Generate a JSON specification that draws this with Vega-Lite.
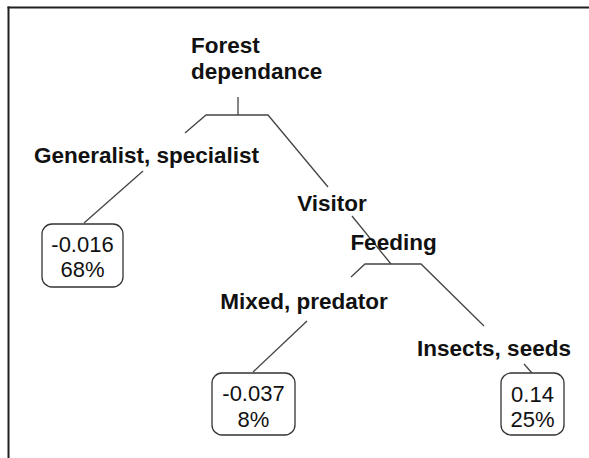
{
  "$schema": "https://vega.github.io/schema/vega-lite/v6.json",
  "width": 581,
  "height": 451,
  "padding": {"left": 8, "top": 7, "right": 0, "bottom": 0},
  "autosize": {"type": "none"},
  "background": "white",
  "config": {
    "view": {"stroke": null},
    "axis": {"domain": true, "domainColor": "#231f20", "domainWidth": 2, "domainCap": "square", "ticks": false, "labels": false, "grid": false, "title": null}
  },
  "datasets": {
    "edges": [
      {"edge": "root", "ord": 1, "x": 238, "y": 97},
      {"edge": "root", "ord": 2, "x": 238, "y": 115},
      {"edge": "split1", "ord": 1, "x": 185, "y": 133},
      {"edge": "split1", "ord": 2, "x": 206, "y": 115},
      {"edge": "split1", "ord": 3, "x": 268, "y": 115},
      {"edge": "split1", "ord": 4, "x": 328, "y": 187},
      {"edge": "leaf1", "ord": 1, "x": 143, "y": 171},
      {"edge": "leaf1", "ord": 2, "x": 84, "y": 223},
      {"edge": "visitor", "ord": 1, "x": 352, "y": 216},
      {"edge": "visitor", "ord": 2, "x": 391, "y": 264},
      {"edge": "split2", "ord": 1, "x": 351, "y": 277},
      {"edge": "split2", "ord": 2, "x": 365, "y": 264},
      {"edge": "split2", "ord": 3, "x": 421, "y": 264},
      {"edge": "split2", "ord": 4, "x": 484, "y": 326},
      {"edge": "leaf2", "ord": 1, "x": 307, "y": 321},
      {"edge": "leaf2", "ord": 2, "x": 253, "y": 372},
      {"edge": "leaf3", "ord": 1, "x": 524, "y": 364},
      {"edge": "leaf3", "ord": 2, "x": 532, "y": 373}
    ],
    "rootLabel": [
      {"label": "Forest\ndependance", "x": 191, "y": 52.5}
    ],
    "splits": [
      {"label": "Generalist, specialist", "x": 146.5, "y": 163},
      {"label": "Visitor", "x": 332, "y": 210.5},
      {"label": "Feeding", "x": 393.5, "y": 250},
      {"label": "Mixed, predator", "x": 304, "y": 309},
      {"label": "Insects, seeds", "x": 494, "y": 355.5}
    ],
    "leaves": [
      {"mean": "-0.016", "share": "68%", "label": "-0.016\n68%", "x0": 42, "x1": 123, "y0": 224, "y1": 287, "cx": 82.5, "ty": 251.5},
      {"mean": "-0.037", "share": "8%", "label": "-0.037\n8%", "x0": 212, "x1": 295, "y0": 373, "y1": 435, "cx": 253.5, "ty": 401},
      {"mean": "0.14", "share": "25%", "label": "0.14\n25%", "x0": 501, "x1": 564, "y0": 373, "y1": 435, "cx": 532.5, "ty": 401.5}
    ]
  },
  "layer": [
    {
      "data": {"name": "leaves"},
      "mark": {"type": "rect", "cornerRadius": 10, "fill": "white", "stroke": "#333333", "strokeWidth": 1.3},
      "encoding": {
        "x": {"field": "x0", "type": "quantitative", "scale": {"domain": [8, 589]}, "axis": {"orient": "top"}},
        "x2": {"field": "x1"},
        "y": {"field": "y0", "type": "quantitative", "scale": {"domain": [7, 458], "reverse": true}, "axis": {"orient": "left"}},
        "y2": {"field": "y1"}
      }
    },
    {
      "data": {"name": "edges"},
      "mark": {"type": "line", "color": "#444444", "strokeWidth": 1.3},
      "encoding": {
        "x": {"field": "x", "type": "quantitative", "scale": {"domain": [8, 589]}, "axis": {"orient": "top"}},
        "y": {"field": "y", "type": "quantitative", "scale": {"domain": [7, 458], "reverse": true}, "axis": {"orient": "left"}},
        "detail": {"field": "edge"},
        "order": {"field": "ord", "type": "quantitative"}
      }
    },
    {
      "data": {"name": "rootLabel"},
      "mark": {"type": "text", "font": "Liberation Sans", "fontSize": 22.5, "fontWeight": "bold", "align": "left", "baseline": "alphabetic", "lineBreak": "\n", "lineHeight": 26.5, "color": "#111111"},
      "encoding": {
        "x": {"field": "x", "type": "quantitative", "scale": {"domain": [8, 589]}, "axis": {"orient": "top"}},
        "y": {"field": "y", "type": "quantitative", "scale": {"domain": [7, 458], "reverse": true}, "axis": {"orient": "left"}},
        "text": {"field": "label"}
      }
    },
    {
      "data": {"name": "splits"},
      "mark": {"type": "text", "font": "Liberation Sans", "fontSize": 22.5, "fontWeight": "bold", "align": "center", "baseline": "alphabetic", "color": "#111111"},
      "encoding": {
        "x": {"field": "x", "type": "quantitative", "scale": {"domain": [8, 589]}, "axis": {"orient": "top"}},
        "y": {"field": "y", "type": "quantitative", "scale": {"domain": [7, 458], "reverse": true}, "axis": {"orient": "left"}},
        "text": {"field": "label"}
      }
    },
    {
      "data": {"name": "leaves"},
      "mark": {"type": "text", "font": "Liberation Sans", "fontSize": 22, "align": "center", "baseline": "alphabetic", "lineBreak": "\n", "lineHeight": 25.5, "color": "#111111"},
      "encoding": {
        "x": {"field": "cx", "type": "quantitative", "scale": {"domain": [8, 589]}, "axis": {"orient": "top"}},
        "y": {"field": "ty", "type": "quantitative", "scale": {"domain": [7, 458], "reverse": true}, "axis": {"orient": "left"}},
        "text": {"field": "label"}
      }
    }
  ]
}
